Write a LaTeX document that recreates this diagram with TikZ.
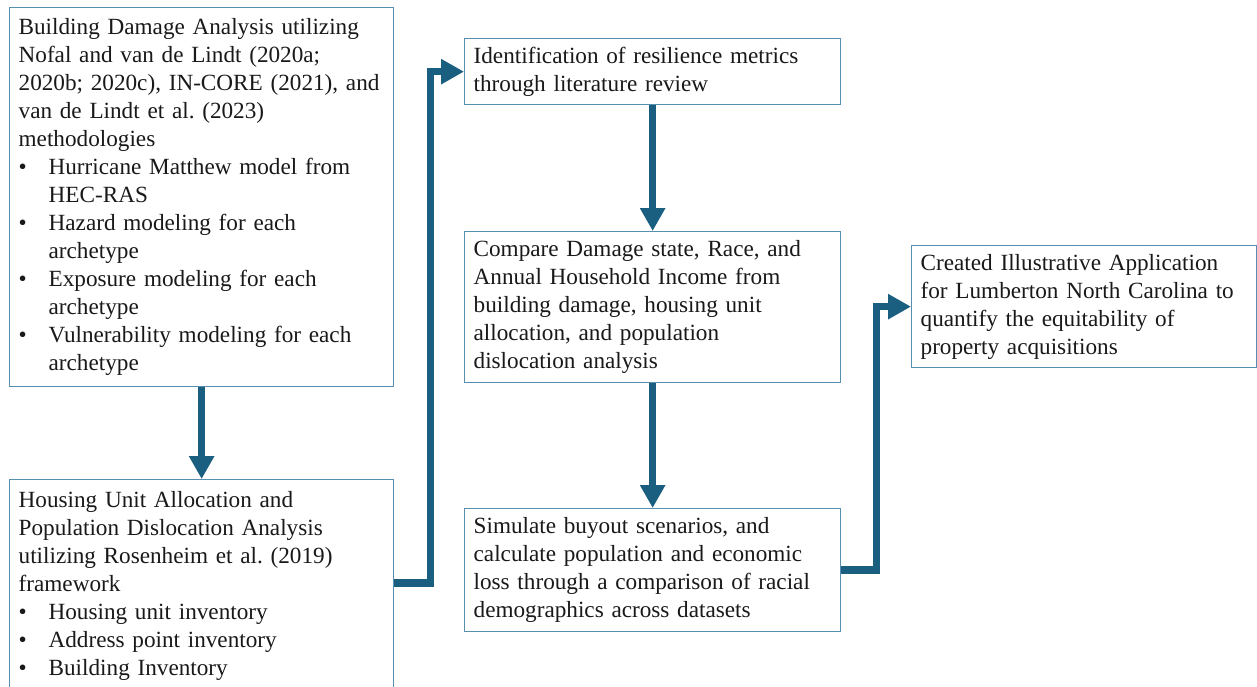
\documentclass[tikz,border=0pt]{standalone}
\usepackage{fontspec}
\setmainfont{Liberation Serif}
\usetikzlibrary{arrows.meta}
\definecolor{flowblue}{RGB}{26,94,128}
\definecolor{edgeblue}{RGB}{88,142,176}
\definecolor{ink}{RGB}{25,25,25}
% bullet line and its continuation, both with a hanging indent
\newcommand{\bitem}[1]{\makebox[30pt][l]{\textbullet}#1}
\newcommand{\bcont}[1]{\hspace*{30pt}#1}

\begin{document}
\begin{tikzpicture}[x=1pt,y=-1pt,
  stepbox/.style={draw=edgeblue, line width=1.3pt, fill=white, anchor=north west,
    inner xsep=9pt, align=left, text=ink,
    font=\fontsize{23.2}{28}\selectfont\frenchspacing},
  flow/.style={draw=flowblue, line width=7.5pt, line join=miter,
    -{Triangle[width=24pt,length=23pt]}}
]
\useasboundingbox (0,0) rectangle (1257,686);
\clip (0,0) rectangle (1257,686);

\node[stepbox, text width=366pt, minimum height=379pt] (b1) at (9,7) {%
  Building Damage Analysis utilizing\\
  Nofal and van de Lindt (2020a;\\
  2020b; 2020c), IN-CORE (2021), and\\
  van de Lindt et al. (2023)\\
  methodologies\\
  \bitem{Hurricane Matthew model from}\\
  \bcont{HEC-RAS}\\
  \bitem{Hazard modeling for each}\\
  \bcont{archetype}\\
  \bitem{Exposure modeling for each}\\
  \bcont{archetype}\\
  \bitem{Vulnerability modeling for each}\\
  \bcont{archetype}};

\node[stepbox, text width=366pt, inner ysep=12pt] (b2) at (9,479) {%
  Housing Unit Allocation and\\
  Population Dislocation Analysis\\
  utilizing Rosenheim et al. (2019)\\
  framework\\
  \bitem{Housing unit inventory}\\
  \bitem{Address point inventory}\\
  \bitem{Building Inventory}};

\node[stepbox, text width=358pt, minimum height=66pt] (b3) at (464,38) {%
  Identification of resilience metrics\\
  through literature review};

\node[stepbox, text width=358pt, minimum height=151pt] (b4) at (464,231) {%
  Compare Damage state, Race, and\\
  Annual Household Income from\\
  building damage, housing unit\\
  allocation, and population\\
  dislocation analysis};

\node[stepbox, text width=358pt, minimum height=123pt] (b5) at (464,508) {%
  Simulate buyout scenarios, and\\
  calculate population and economic\\
  loss through a comparison of racial\\
  demographics across datasets};

\node[stepbox, text width=327pt, minimum height=122pt] (b6) at (911,245) {%
  Created Illustrative Application\\
  for Lumberton North Carolina to\\
  quantify the equitability of\\
  property acquisitions};

% process flow
\draw[flow] (b1.south) -- (b2.north);
\draw[flow] ([yshift=-104pt]b2.north east) -- ++(36,0) |- (b3.west);
\draw[flow] (b3.south) -- (b4.north);
\draw[flow] (b4.south) -- (b5.north);
\draw[flow] (b5.east) -- ++(35,0) |- (b6.west);
\end{tikzpicture}
\end{document}
